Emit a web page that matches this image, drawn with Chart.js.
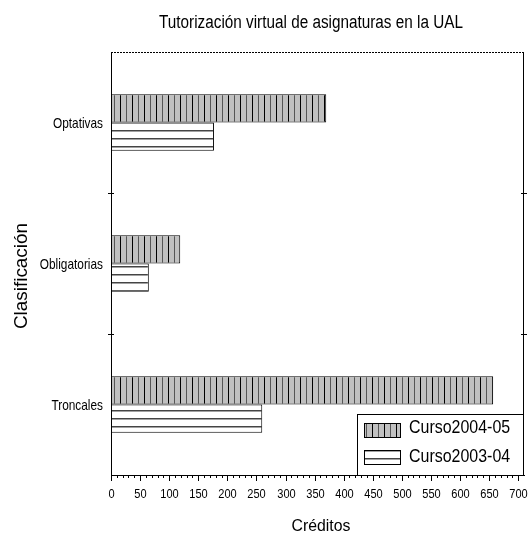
<!DOCTYPE html>
<html>
<head>
<meta charset="utf-8">
<script src="https://cdn.jsdelivr.net/npm/chart.js@4.4.1/dist/chart.umd.min.js"></script>
<style>
  body { margin: 0; background: #fff; }
  #wrap { width: 531px; height: 533px; }
</style>
</head>
<body>
<div id="wrap"><canvas id="chart" width="531" height="533"></canvas></div>
<script>
// data
const categories = ['Optativas', 'Obligatorias', 'Troncales'];
const curso0405 = [370, 119, 657];
const curso0304 = [177, 65, 260];
const seriesNames = ['Curso2004-05', 'Curso2003-04'];

const chartTitle = 'Tutorización virtual de asignaturas en la UAL';
const xTitle = 'Créditos';
const yTitle = 'Clasificación';

const FONT = "'Liberation Sans', Arial, sans-serif";

function makePattern(kind) {
    const c = document.createElement('canvas');
    const ctx = c.getContext('2d');
    if (kind == 'vertical') {
        c.width = 12; c.height = 4;
        ctx.fillStyle = '#c0c0c0';
        ctx.fillRect(0, 0, 12, 4);
        ctx.fillStyle = '#000';
        ctx.fillRect(0, 0, 1, 4);
        ctx.fillStyle = '#555';
        ctx.fillRect(6, 0, 1, 4);
    } else {
        c.width = 4; c.height = 8;
        ctx.fillStyle = '#fff';
        ctx.fillRect(0, 0, 4, 8);
        ctx.fillStyle = '#444';
        ctx.fillRect(0, 2, 4, 1.5);
    }
    return ctx.createPattern(c, 'repeat');
}

const patVert = makePattern('vertical');
const patHoriz = makePattern('horizontal');

// text squeezed horizontally, the original font is a narrow one
function narrowText(ctx, txt, x, y, size, sx, align) {
    ctx.save();
    ctx.font = size + 'px ' + FONT;
    ctx.textAlign = align;
    ctx.textBaseline = 'alphabetic';
    ctx.translate(x, y);
    ctx.scale(sx, 1);
    ctx.fillText(txt, 0, 0);
    ctx.restore();
}

// frame, ticks, labels, titles and legend box
const decorations = {
    id: 'decorations',
    afterDraw(chart) {
        const ctx = chart.ctx;
        const a = chart.chartArea;
        const xs = chart.scales.x;
        const ys = chart.scales.y;
        ctx.save();
        ctx.strokeStyle = '#000';
        ctx.fillStyle = '#000';
        ctx.lineWidth = 1;

        // top border (dotted) and right border
        ctx.setLineDash([2, 1]);
        ctx.beginPath();
        ctx.moveTo(a.left, a.top + 0.5);
        ctx.lineTo(a.right, a.top + 0.5);
        ctx.stroke();
        ctx.setLineDash([]);
        ctx.beginPath();
        ctx.moveTo(a.right - 0.5, a.top);
        ctx.lineTo(a.right - 0.5, a.bottom);
        ctx.stroke();

        // x ticks, minor every 10, major every 50 with labels
        xs.ticks.forEach(t => {
            if (t.value > 700) return;
            const px = Math.round(xs.getPixelForValue(t.value)) + 0.5;
            const major = t.value % 50 == 0;
            ctx.beginPath();
            ctx.moveTo(px, a.bottom);
            ctx.lineTo(px, a.bottom + (major ? 6 : 3));
            ctx.stroke();
            if (major) narrowText(ctx, String(t.value), px, 498, 13, 0.85, 'center');
        });

        // y labels and ticks between categories
        categories.forEach((c, i) => {
            narrowText(ctx, c, a.left - 8, ys.getPixelForValue(i) + 5, 15, 0.79, 'right');
        });
        for (let i = 0; i < categories.length - 1; i++) {
            const py = Math.round((ys.getPixelForValue(i) + ys.getPixelForValue(i + 1)) / 2) + 0.5;
            ctx.beginPath();
            ctx.moveTo(a.left - 3, py);
            ctx.lineTo(a.left + 3, py);
            ctx.stroke();
            ctx.beginPath();
            ctx.moveTo(a.right - 3, py);
            ctx.lineTo(a.right + 3, py);
            ctx.stroke();
        }

        // titles
        narrowText(ctx, chartTitle, 311, 28, 18, 0.85, 'center');
        narrowText(ctx, xTitle, 321, 531, 17, 0.93, 'center');
        ctx.save();
        ctx.translate(27, 276);
        ctx.rotate(-Math.PI / 2);
        narrowText(ctx, yTitle, 0, 0, 18, 1.05, 'center');
        ctx.restore();

        // legend box
        const lx = 357, ly = 414;
        ctx.fillStyle = '#fff';
        ctx.fillRect(lx, ly, a.right - lx, a.bottom - ly);
        ctx.strokeRect(lx + 0.5, ly + 0.5, a.right - lx - 1, a.bottom - ly);
        const pats = [patVert, patHoriz];
        chart.data.datasets.forEach((ds, i) => {
            const sy = 423 + i * 27;
            ctx.fillStyle = pats[i];
            ctx.fillRect(364, sy, 37, 15);
            ctx.strokeRect(364.5, sy + 0.5, 36, 14);
            ctx.fillStyle = '#000';
            narrowText(ctx, ds.label, 409, 433 + i * 29, 19, 0.84, 'left');
        });
        ctx.restore();
    }
};

new Chart(document.getElementById('chart'), {
    type: 'bar',
    data: {
        labels: categories,
        datasets: [
            {
                label: seriesNames[0],
                data: curso0405,
                backgroundColor: patVert,
                borderColor: '#000',
                borderWidth: 1,
                borderSkipped: false,
                categoryPercentage: 0.4,
                barPercentage: 1.0
            },
            {
                label: seriesNames[1],
                data: curso0304,
                backgroundColor: patHoriz,
                borderColor: '#000',
                borderWidth: 1,
                borderSkipped: false,
                categoryPercentage: 0.4,
                barPercentage: 1.0
            }
        ]
    },
    options: {
        indexAxis: 'y',
        responsive: false,
        animation: false,
        devicePixelRatio: 1,
        layout: { padding: { top: 52, right: 7, left: 0, bottom: 0 } },
        plugins: {
            legend: { display: false },
            title: { display: false },
            tooltip: { enabled: false }
        },
        scales: {
            x: {
                type: 'linear',
                min: 0,
                max: 710,
                afterFit: (s) => { s.height = 58; },
                grid: { display: false, drawTicks: false },
                border: { display: true, color: '#000', width: 1 },
                ticks: { stepSize: 10, autoSkip: false, display: false }
            },
            y: {
                afterFit: (s) => { s.width = 111; },
                grid: { display: false, drawTicks: false, offset: true },
                border: { display: true, color: '#000', width: 1 },
                ticks: { display: false }
            }
        }
    },
    plugins: [decorations]
});
</script>
</body>
</html>
